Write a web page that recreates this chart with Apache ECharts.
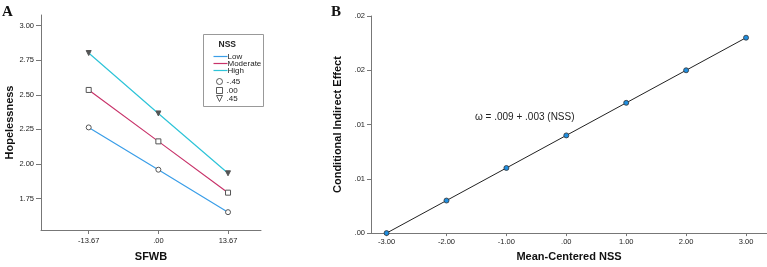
<!DOCTYPE html>
<html>
<head>
<meta charset="utf-8">
<script src="https://cdn.jsdelivr.net/npm/echarts@6/dist/echarts.min.js"></script>
<style>
  body { margin: 0; background: #fff; }
  #main { width: 767px; height: 267px; }
</style>
</head>
<body>
<div id="main"></div>
<script>
// 左图 A 数据
var sfwbValues = [-13.67, 0, 13.67];
var sfwbLabels = ["-13.67", ".00", "13.67"];
var lowNSS = [2.264, 1.958, 1.651];
var moderateNSS = [2.535, 2.163, 1.792];
var highNSS = [2.802, 2.365, 1.932];
var hopeTicks = [1.75, 2.0, 2.25, 2.5, 2.75, 3.0];

// 右图 B 数据
var nssValues = [-3, -2, -1, 0, 1, 2, 3];
var nssLabels = ["-3.00", "-2.00", "-1.00", ".00", "1.00", "2.00", "3.00"];
var indirectEffect = [0.0, 0.003, 0.006, 0.009, 0.012, 0.015, 0.018];
var effectTicks = [0, 0.005, 0.01, 0.015, 0.02];
var effectLabels = [".00", ".01", ".01", ".02", ".02"];

function labelOf(values, labels) {
  return function (v) {
    for (var i = 0; i < values.length; i++) {
      if (Math.abs(values[i] - v) < 1e-6) return labels[i];
    }
    return "";
  };
}
function pairs(xs, ys) {
  return xs.map(function (x, i) { return [x, ys[i]]; });
}

var axisColor = "#777";
var tickFont = { fontSize: 7.5, color: "#222", fontFamily: "Liberation Sans" };
var nameFont = { fontSize: 11, fontWeight: "bold", color: "#111", fontFamily: "Liberation Sans" };

var myChart = echarts.init(document.getElementById("main"));

var hollow = { color: "#fff", borderColor: "#555", borderWidth: 1 };

var option = {
  animation: false,
  grid: [
    { left: 41, top: 15, width: 220, height: 221 },
    { left: 371, top: 16, width: 396, height: 220 }
  ],
  xAxis: [
    {
      gridIndex: 0, type: "value", min: -23.03, max: 20.14,
      name: "SFWB", nameLocation: "middle", nameGap: 21, nameTextStyle: nameFont,
      splitLine: { show: false },
      axisLine: { onZero: false, lineStyle: { color: axisColor } },
      axisTick: { customValues: sfwbValues, length: 4, lineStyle: { color: axisColor } },
      axisLabel: Object.assign({ customValues: sfwbValues, margin: 7,
        formatter: labelOf(sfwbValues, sfwbLabels) }, tickFont)
    },
    {
      gridIndex: 1, type: "value", min: -3.26, max: 3.35,
      name: "Mean-Centered NSS", nameLocation: "middle", nameGap: 13, nameTextStyle: nameFont,
      splitLine: { show: false },
      axisLine: { onZero: false, lineStyle: { color: axisColor } },
      axisTick: { customValues: nssValues, length: 3, lineStyle: { color: axisColor } },
      axisLabel: Object.assign({ customValues: nssValues, margin: 5,
        formatter: labelOf(nssValues, nssLabels) }, tickFont)
    }
  ],
  yAxis: [
    {
      gridIndex: 0, type: "value", min: 1.522, max: 3.077,
      name: "Hopelessness", nameLocation: "middle", nameGap: 23, nameTextStyle: nameFont,
      splitLine: { show: false },
      axisLine: { show: true, onZero: false, lineStyle: { color: axisColor } },
      axisTick: { show: true, customValues: hopeTicks, length: 5, lineStyle: { color: axisColor } },
      axisLabel: Object.assign({ customValues: hopeTicks, margin: 7,
        formatter: function (v) { return v.toFixed(2); } }, tickFont)
    },
    {
      gridIndex: 1, type: "value", min: 0, max: 0.02,
      name: "Conditional Indirect Effect", nameLocation: "middle", nameGap: 24, nameTextStyle: nameFont,
      splitLine: { show: false },
      axisLine: { show: true, onZero: false, lineStyle: { color: axisColor } },
      axisTick: { show: true, customValues: effectTicks, length: 4, lineStyle: { color: axisColor } },
      axisLabel: Object.assign({ customValues: effectTicks, margin: 6,
        formatter: labelOf(effectTicks, effectLabels) }, tickFont)
    }
  ],
  series: [
    {
      name: "Low", type: "line", xAxisIndex: 0, yAxisIndex: 0,
      data: pairs(sfwbValues, lowNSS),
      symbol: "circle", symbolSize: 5,
      lineStyle: { color: "#3a9ee8", width: 1.2 }, itemStyle: hollow
    },
    {
      name: "Moderate", type: "line", xAxisIndex: 0, yAxisIndex: 0,
      data: pairs(sfwbValues, moderateNSS),
      symbol: "rect", symbolSize: 5,
      lineStyle: { color: "#c8336a", width: 1.2 }, itemStyle: hollow
    },
    {
      name: "High", type: "line", xAxisIndex: 0, yAxisIndex: 0,
      data: pairs(sfwbValues, highNSS),
      symbol: "triangle", symbolRotate: 180, symbolSize: 5,
      lineStyle: { color: "#2ec4d8", width: 1.2 }, itemStyle: { color: "#555", borderColor: "#555" }
    },
    {
      name: "Effect", type: "line", xAxisIndex: 1, yAxisIndex: 1,
      data: pairs(nssValues, indirectEffect),
      symbol: "circle", symbolSize: 5,
      lineStyle: { color: "#222", width: 1 },
      itemStyle: { color: "#1f8ee0", borderColor: "#333", borderWidth: 0.8 }
    }
  ],
  // 图例框、标题字母、公式 用 graphic 画
  graphic: [
    { type: "text", left: 2, top: 5, style: { text: "A", font: "bold 15px 'Liberation Serif'", fill: "#111" } },
    { type: "text", left: 331, top: 5, style: { text: "B", font: "bold 15px 'Liberation Serif'", fill: "#111" } },
    { type: "text", left: 475, top: 112, style: { text: "ω = .009 + .003 (NSS)", font: "10px 'Liberation Sans'", fill: "#222" } },
    {
      type: "group", left: 203, top: 34,
      children: [
        { type: "rect", shape: { x: 0, y: 0, width: 60, height: 72 }, style: { fill: "#fff", stroke: "#999", lineWidth: 1 } },
        { type: "text", x: 15, y: 6, style: { text: "NSS", font: "bold 8.5px 'Liberation Sans'", fill: "#222" } },
        { type: "line", shape: { x1: 10, y1: 22, x2: 24, y2: 22 }, style: { stroke: "#3a9ee8", lineWidth: 1.2 } },
        { type: "line", shape: { x1: 10, y1: 29, x2: 24, y2: 29 }, style: { stroke: "#c8336a", lineWidth: 1.2 } },
        { type: "line", shape: { x1: 10, y1: 36, x2: 24, y2: 36 }, style: { stroke: "#2ec4d8", lineWidth: 1.2 } },
        { type: "text", x: 24, y: 18, style: { text: "Low", font: "8px 'Liberation Sans'", fill: "#222" } },
        { type: "text", x: 24, y: 25, style: { text: "Moderate", font: "8px 'Liberation Sans'", fill: "#222" } },
        { type: "text", x: 24, y: 32, style: { text: "High", font: "8px 'Liberation Sans'", fill: "#222" } },
        { type: "circle", shape: { cx: 16, cy: 47, r: 3 }, style: { fill: "#fff", stroke: "#333", lineWidth: 0.8 } },
        { type: "rect", shape: { x: 13, y: 53, width: 6, height: 6 }, style: { fill: "#fff", stroke: "#333", lineWidth: 0.8 } },
        { type: "polygon", shape: { points: [[13, 61], [19, 61], [16, 67]] }, style: { fill: "#fff", stroke: "#333", lineWidth: 0.8 } },
        { type: "text", x: 23, y: 43, style: { text: "-.45", font: "8px 'Liberation Sans'", fill: "#222" } },
        { type: "text", x: 23, y: 52, style: { text: ".00", font: "8px 'Liberation Sans'", fill: "#222" } },
        { type: "text", x: 23, y: 60, style: { text: ".45", font: "8px 'Liberation Sans'", fill: "#222" } }
      ]
    }
  ]
};
myChart.setOption(option);

window.onresize = function () {
  myChart.resize();
};
</script>
</body>
</html>
